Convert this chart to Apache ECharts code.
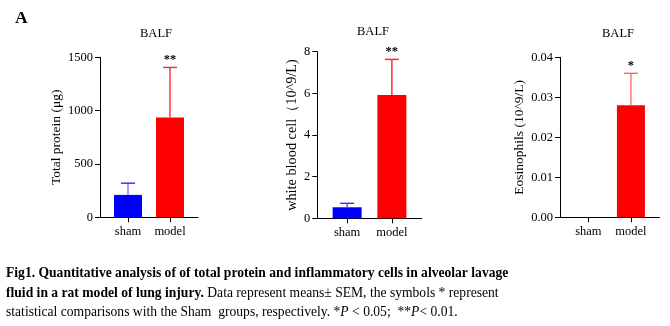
<!DOCTYPE html>
<html>
<head>
<meta charset="utf-8">
<script src="https://cdn.jsdelivr.net/npm/echarts@6/dist/echarts.min.js"></script>
<style>
  html, body { margin: 0; padding: 0; background: #fff; }
  #chart { width: 670px; height: 326px; }
</style>
</head>
<body>
<div id="chart"></div>
<script>
// Group labels and measured values (mean and SEM) for the three BALF panels
const groups = ['sham', 'model'];
const proteinMean = [210, 935];
const proteinSem = [110, 470];
const wbcMean = [0.53, 5.92];
const wbcSem = [0.19, 1.71];
const eosMean = [0, 0.028];
const eosSem = [0, 0.008];
const proteinSig = ['', '**'];
const wbcSig = ['', '**'];
const eosSig = ['', '*'];
const proteinTicks = [0, 500, 1000, 1500];
const wbcTicks = [0, 2, 4, 6, 8];
const eosTicks = [0, 0.01, 0.02, 0.03, 0.04];
const panelTitle = 'BALF';

const FONT = 'Liberation Serif';
const barColors = ['#0000ff', '#ff0000'];
const panels = [
  { mean: proteinMean, sem: proteinSem, sig: proteinSig, ticks: proteinTicks, decimals: 0,
    name: 'Total protein (μg)', nameGap: 37, nameSize: 13.5, barWidth: 28,
    grid: { left: 100, top: 57.3, width: 98, height: 160 }, title: [156, 34],
    semColors: [['#7f7fff', '#2a2aff'], ['#ff2a2a', '#ff2a2a']] },
  { mean: wbcMean, sem: wbcSem, sig: wbcSig, ticks: wbcTicks, decimals: 0,
    name: 'white blood cell\uff0810^9/L)', nameGap: 18, nameSize: 14.3, barWidth: 29,
    grid: { left: 317.3, top: 51.7, width: 104.4, height: 166.6 }, title: [373, 32],
    semColors: [['#5555ff', '#3333ff'], ['#ff2020', '#ff2020']] },
  { mean: eosMean, sem: eosSem, sig: eosSig, ticks: eosTicks, decimals: 2,
    name: 'Eosinophils (10^9/L)', nameGap: 34, nameSize: 13.5, barWidth: 28,
    grid: { left: 560, top: 57.3, width: 99.3, height: 160 }, title: [618, 34],
    semColors: [['#8080ff', '#8080ff'], ['#ff7070', '#ff6060']] }
];

const grids = [], xAxes = [], yAxes = [], series = [], graphic = [];

panels.forEach(function (p, i) {
  grids.push(Object.assign({ containLabel: false }, p.grid));
  graphic.push({
    type: 'text', x: p.title[0], y: p.title[1],
    style: { text: panelTitle, fontFamily: FONT, fontSize: 12.5, fill: '#000',
             align: 'center', verticalAlign: 'middle' }
  });
  xAxes.push({
    type: 'value', gridIndex: i, min: -2 / 3, max: 5 / 3,
    splitLine: { show: false },
    axisLine: { show: true, onZero: false, lineStyle: { color: '#000', width: 1 } },
    axisTick: { show: true, customValues: [0, 1], length: 5, lineStyle: { color: '#000' } },
    axisLabel: {
      customValues: [0, 1], margin: 8,
      formatter: function (v) { return groups[Math.round(v)]; },
      fontFamily: FONT, fontSize: 12.5, color: '#000'
    }
  });
  const top = p.ticks[p.ticks.length - 1];
  yAxes.push({
    type: 'value', gridIndex: i, min: 0, max: top, interval: p.ticks[1] - p.ticks[0],
    name: p.name, nameLocation: 'middle', nameRotate: 90, nameGap: p.nameGap,
    nameTextStyle: { fontFamily: FONT, fontSize: p.nameSize, color: '#000' },
    splitLine: { show: false },
    axisLine: { show: true, onZero: false, lineStyle: { color: '#000', width: 1 } },
    axisTick: { show: true, length: 5, lineStyle: { color: '#000' } },
    axisLabel: {
      margin: 7, fontFamily: FONT, fontSize: 12.5, color: '#000',
      formatter: function (v) { return v.toFixed(p.decimals); }
    }
  });
  series.push({
    type: 'bar', xAxisIndex: i, yAxisIndex: i, barWidth: p.barWidth,
    data: p.mean.map(function (m, k) {
      return { value: [k, m], itemStyle: { color: barColors[k] } };
    }),
    z: 2
  });
  // upper SEM whisker with cap and significance marker
  series.push({
    type: 'custom', xAxisIndex: i, yAxisIndex: i, z: 3,
    data: p.mean.map(function (m, k) { return [k, m, m + p.sem[k]]; }),
    renderItem: function (params, api) {
      const k = api.value(0);
      if (p.sem[k] <= 0) return null;
      const base = api.coord([k, api.value(1)]);
      const tip = api.coord([k, api.value(2)]);
      const cols = p.semColors[k];
      const children = [
        { type: 'line', shape: { x1: base[0], y1: base[1], x2: tip[0], y2: tip[1] },
          style: { stroke: cols[0], lineWidth: 1.4 } },
        { type: 'line', shape: { x1: tip[0] - 7, y1: tip[1], x2: tip[0] + 7, y2: tip[1] },
          style: { stroke: cols[1], lineWidth: 1.4 } }
      ];
      if (p.sig[k]) {
        children.push({ type: 'text', x: tip[0], y: tip[1] - 1,
          style: { text: p.sig[k], fontFamily: FONT, fontSize: 12.5, fontWeight: 'bold',
                   fill: '#000', align: 'center', verticalAlign: 'bottom' } });
      }
      return { type: 'group', children: children };
    }
  });
});

const CAP_SIZE = 15.5;
const capRich = {
  b: { fontFamily: FONT, fontSize: CAP_SIZE, fontWeight: 'bold', fill: '#000' },
  n: { fontFamily: FONT, fontSize: CAP_SIZE, fill: '#000' },
  i: { fontFamily: FONT, fontSize: CAP_SIZE, fontStyle: 'italic', fill: '#000' }
};
const captionLines = [
  '{b|Fig1. Quantitative analysis of of total protein and inflammatory cells in alveolar lavage}',
  '{b|fluid in a rat model of lung injury.}{n| Data represent means\u00b1 SEM, the symbols * represent}',
  '{n|statistical comparisons with the Sham  groups, respectively. *}{i|P}{n| < 0.05;  **}{i|P}{n|< 0.01.}'
];
const captionY = [273, 293, 311.5];

graphic.push({ type: 'text', x: 15, y: 18,
  style: { text: 'A', fontFamily: FONT, fontSize: 17.5, fontWeight: 'bold', fill: '#000',
           verticalAlign: 'middle' } });
captionLines.forEach(function (t, j) {
  graphic.push({ type: 'text', x: 6, y: captionY[j], scaleX: 0.877,
    style: { text: t, rich: capRich, verticalAlign: 'middle', align: 'left' } });
});

const chart = echarts.init(document.getElementById('chart'), null, { renderer: 'canvas' });
chart.setOption({
  animation: false,
  backgroundColor: '#fff',
  grid: grids,
  xAxis: xAxes,
  yAxis: yAxes,
  series: series,
  graphic: graphic
});
</script>
</body>
</html>
